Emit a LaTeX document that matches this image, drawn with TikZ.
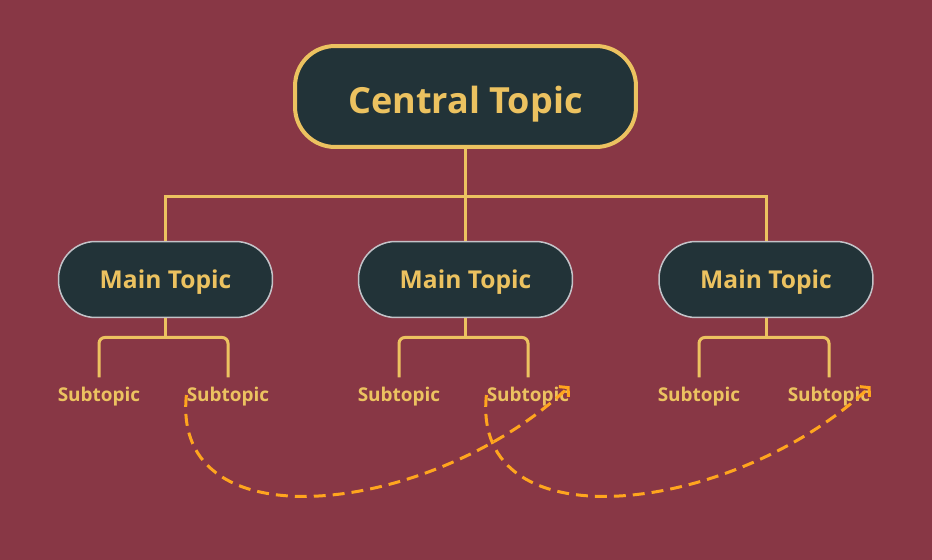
\documentclass[tikz,border=0pt]{standalone}
\usepackage{fontspec}
\setmainfont{Open Sans}
\usepackage{tikz}
\usetikzlibrary{arrows.meta, positioning, calc}
\definecolor{mybg}{RGB}{136,55,69}
\definecolor{mydark}{RGB}{34,51,56}
\definecolor{mygold}{RGB}{236,194,96}
\definecolor{mygrey}{RGB}{195,195,200}
\definecolor{myorange}{RGB}{255,165,30}
\tikzset{
  central/.style={rectangle, draw=mygold, fill=mydark, text=mygold,
    minimum width=6.82cm, minimum height=2.02cm, text height=18.8pt, text depth=0pt,
    font=\fontsize{20.5}{24}\selectfont\bfseries, rounded corners=0.8cm, line width=0.08cm},
  maintopic/.style={rectangle, draw=mygrey, fill=mydark, text=mygold,
    minimum width=4.28cm, minimum height=1.52cm, text height=10.8pt, text depth=0pt,
    font=\fontsize{14}{17}\selectfont\bfseries, rounded corners=0.74cm, line width=0.03cm},
  subtopic/.style={text=mygold, font=\fontsize{10.8}{13}\selectfont\bfseries,
    text height=7.6pt, text depth=0pt, inner xsep=0pt, inner ysep=6pt},
  link/.style={draw=mygold, line width=0.06cm},
  jump/.style={-{Straight Barb[length=3.5pt, width=8pt]}, color=myorange,
    line width=0.06cm, dash pattern=on 6.8pt off 4pt}
}

\begin{document}
\begin{tikzpicture}[x=0.02cm, y=-0.02cm]
  % Background
  \fill[mybg] (0,0) rectangle (932,560);
  \useasboundingbox (0,0) rectangle (932,560);

  % Topics
  \node[central] (ct) at (465.5,96.5) {Central Topic};
  \node[maintopic] (m1) at (165.5,279.5) {Main Topic};
  \node[maintopic] (m2) at (465.5,279.5) {Main Topic};
  \node[maintopic] (m3) at (766,279.5) {Main Topic};

  % Subtopics
  \node[subtopic] (s11) at (99,395) {Subtopic};
  \node[subtopic] (s12) at (228,395) {Subtopic};
  \node[subtopic] (s21) at (399,395) {Subtopic};
  \node[subtopic] (s22) at (528,395) {Subtopic};
  \node[subtopic] (s31) at (699,395) {Subtopic};
  \node[subtopic] (s32) at (829,395) {Subtopic};

  % Central to main
  \draw[link] (ct.south) -- ++(0,48) -| (m1.north);
  \draw[link] (ct.south) -- ++(0,48) -| (m3.north);
  \draw[link] (ct.south) -- (m2.north);

  % Main to sub
  \foreach \m/\a/\b in {m1/s11/s12, m2/s21/s22, m3/s31/s32} {
    \draw[link] (\m.south) -- ++(0,19);
    \draw[link, rounded corners=0.12cm] (\a.north) -- ++(0,-40) -| (\b.north);
  }

  % Dashed jumps
  \draw[jump] (s12.west) .. controls +(-16,152) and +(-137,128) .. ([yshift=5pt]s22.east);
  \draw[jump] (s22.west) .. controls +(-16,152) and +(-137,128) .. ([yshift=5pt]s32.east);
\end{tikzpicture}
\end{document}
